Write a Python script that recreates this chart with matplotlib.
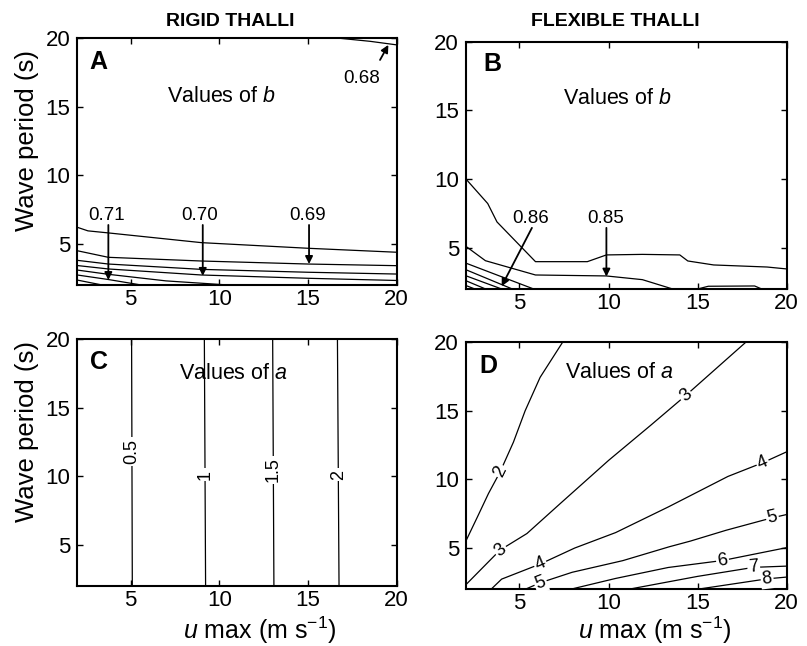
import matplotlib
matplotlib.use('Agg')
import matplotlib.pyplot as plt
import numpy as np

plt.rcParams['font.family'] = ['Liberation Sans', 'DejaVu Sans']
plt.rcParams['mathtext.fontset'] = 'custom'
plt.rcParams['mathtext.rm'] = 'Liberation Sans'
plt.rcParams['mathtext.it'] = 'Liberation Sans:italic'
plt.rcParams['mathtext.default'] = 'regular'

# ---------------- data ----------------
x_ticks = [5, 10, 15, 20]
y_ticks = [5, 10, 15, 20]

# Panel A - rigid thalli, contour lines of b
A_b0_x = [16.8, 18.5, 20.0]; A_b0_y = [20.0, 19.78, 19.52]
A_b1_x = [2.0, 2.6, 3.75, 9.0, 15.0, 20.0]; A_b1_y = [6.21, 5.95, 5.80, 5.09, 4.68, 4.39]
A_b2_x = [2.0, 3.75, 9.0, 15.0, 20.0]; A_b2_y = [4.50, 4.02, 3.75, 3.53, 3.41]
A_b3_x = [2.0, 3.75, 9.0, 15.0, 20.0]; A_b3_y = [3.80, 3.53, 3.14, 2.93, 2.80]
A_b4_x = [2.0, 3.75, 9.0, 15.0, 20.0]; A_b4_y = [3.42, 3.17, 2.73, 2.49, 2.33]
A_b5_x = [2.0, 3.75, 7.0, 10.5]; A_b5_y = [3.09, 2.78, 2.30, 2.0]
A_b6_x = [2.0, 3.75, 5.6]; A_b6_y = [2.73, 2.40, 2.0]
A_b7_x = [2.0, 3.4]; A_b7_y = [2.36, 2.0]
A_lines = [(A_b0_x, A_b0_y), (A_b1_x, A_b1_y), (A_b2_x, A_b2_y), (A_b3_x, A_b3_y),
           (A_b4_x, A_b4_y), (A_b5_x, A_b5_y), (A_b6_x, A_b6_y), (A_b7_x, A_b7_y)]
A_labels = ['0.71', '0.70', '0.69', '0.68']
A_label_xy = [(3.66, 7.1), (8.9, 7.1), (14.97, 7.1), (18.0, 17.1)]
A_tip_xy = [(3.75, 2.36), (9.07, 2.66), (15.06, 3.53), (19.53, 19.52)]

# Panel B - flexible thalli, contour lines of b
B_b1_x = [2.0, 3.22, 3.74, 5.9, 8.81, 9.88, 11.9, 14.0, 14.45, 15.9, 18.9, 20.0]
B_b1_y = [10.0, 8.22, 6.88, 3.99, 3.99, 4.48, 4.52, 4.48, 4.04, 3.75, 3.60, 3.46]
B_b2_x = [2.0, 3.09, 5.9, 9.88, 11.9, 13.6]; B_b2_y = [5.1, 4.06, 3.02, 2.95, 2.68, 2.0]
B_b2b_x = [15.0, 15.6, 18.2, 18.6]; B_b2b_y = [2.0, 2.2, 2.22, 2.0]
B_b3_x = [2.0, 5.8]; B_b3_y = [3.88, 2.0]
B_b4_x = [2.0, 4.6]; B_b4_y = [3.40, 2.0]
B_b5_x = [2.0, 4.0]; B_b5_y = [2.96, 2.0]
B_b6_x = [2.0, 3.1]; B_b6_y = [2.60, 2.0]
B_b7_x = [2.0, 2.5]; B_b7_y = [2.25, 2.0]
B_lines = [(B_b1_x, B_b1_y), (B_b2_x, B_b2_y), (B_b2b_x, B_b2b_y), (B_b3_x, B_b3_y),
           (B_b4_x, B_b4_y), (B_b5_x, B_b5_y), (B_b6_x, B_b6_y), (B_b7_x, B_b7_y)]
B_labels = ['0.86', '0.85']
B_label_xy = [(5.62, 7.1), (9.84, 7.1)]
B_tip_xy = [(4.0, 2.2), (9.88, 2.9)]

# Panel C - rigid thalli, contour lines of a
C_levels = ['0.5', '1', '1.5', '2']
C_x_bottom = [5.10, 9.23, 13.08, 16.75]
C_x_top = [5.06, 9.16, 13.01, 16.66]
C_label_y = [11.8, 10.1, 10.45, 10.1]

# Panel D - flexible thalli, contour lines of a
D_2_x = [2.0, 2.64, 3.26, 3.91, 4.66, 5.32, 6.16, 7.42]
D_2_y = [5.5, 7.24, 8.95, 10.52, 12.7, 15.0, 17.44, 20.0]
D_3_x = [2.0, 3.91, 5.42, 7.29, 10.0, 12.35, 14.32, 17.7]
D_3_y = [2.3, 4.82, 6.03, 8.22, 11.37, 13.92, 16.1, 20.0]
D_4_x = [3.44, 4.0, 6.16, 8.1, 10.4, 13.35, 16.7, 18.65, 20.0]
D_4_y = [2.0, 2.7, 3.8, 4.97, 6.1, 7.97, 10.2, 11.2, 12.0]
D_5_x = [5.4, 6.18, 7.96, 10.8, 13.4, 14.6, 16.6, 19.1, 20.0]
D_5_y = [2.0, 2.44, 3.2, 4.05, 5.06, 5.48, 6.27, 7.15, 7.42]
D_6_x = [8.0, 10.4, 13.35, 16.4, 20.0]; D_6_y = [2.0, 2.75, 3.55, 4.06, 5.0]
D_7_x = [11.3, 15.0, 18.15, 20.0]; D_7_y = [2.0, 2.9, 3.56, 3.65]
D_8_x = [15.2, 18.9, 20.0]; D_8_y = [2.0, 2.72, 2.85]
D_lines = [(D_2_x, D_2_y), (D_3_x, D_3_y), (D_4_x, D_4_y), (D_5_x, D_5_y),
           (D_6_x, D_6_y), (D_7_x, D_7_y), (D_8_x, D_8_y)]
D_label_text = ['2', '3', '3', '4', '4', '5', '5', '6', '7', '8']
D_label_line = [0, 1, 1, 2, 2, 3, 3, 4, 5, 6]
D_label_x = [3.93, 3.93, 14.33, 6.17, 18.65, 6.18, 19.2, 16.4, 18.15, 18.9]

# ---------------- figure ----------------
W, H = 807, 646
fig = plt.figure(figsize=(W / 100, H / 100), dpi=100)


def ax_px(l, t, r, b):
    return fig.add_axes([l / W, 1 - b / H, (r - l) / W, (b - t) / H])


LW = 0.9
TICK_FS = 16


def style(ax):
    ax.set_xlim(2, 20)
    ax.set_ylim(2, 20)
    ax.set_xticks(x_ticks)
    ax.set_yticks(y_ticks)
    ax.tick_params(direction='in', top=True, right=True, length=4, width=1,
                   labelsize=TICK_FS, pad=3)
    ax.tick_params(axis='y', pad=5)
    for s in ax.spines.values():
        s.set_linewidth(1.5)


axA = ax_px(77.3, 38.3, 396.7, 285.0)
axB = ax_px(466.0, 41.7, 786.7, 289.0)
axC = ax_px(77.3, 339.0, 396.7, 585.7)
axD = ax_px(466.0, 342.3, 786.7, 588.7)
for ax in (axA, axB, axC, axD):
    style(ax)

arrow_kw = dict(arrowstyle='-|>', color='black', lw=1.3, mutation_scale=11,
                shrinkA=0, shrinkB=0)
ANN_FS = 13.5
VAL_FS = 15.5
LET_FS = 18

# Panel A
for xs, ys in A_lines:
    axA.plot(xs, ys, color='black', lw=LW)
for lab, (lx, ly), (tx, ty) in zip(A_labels, A_label_xy, A_tip_xy):
    axA.text(lx, ly, lab, ha='center', va='center', fontsize=ANN_FS)
    if lab == '0.68':
        axA.annotate('', xy=(tx, ty), xytext=(19.06, 18.42), arrowprops=arrow_kw)
    else:
        axA.annotate('', xy=(tx, ty), xytext=(tx, 6.38), arrowprops=arrow_kw)
axA.text(10.14, 15.75, 'Values of $\\it{b}$', ha='center', va='center', fontsize=VAL_FS)
axA.text(2.7, 18.3, 'A', ha='left', va='center', fontsize=LET_FS, fontweight='bold')

# Panel B
for xs, ys in B_lines:
    axB.plot(xs, ys, color='black', lw=LW)
for lab, (lx, ly), (tx, ty) in zip(B_labels, B_label_xy, B_tip_xy):
    axB.text(lx, ly, lab, ha='center', va='center', fontsize=ANN_FS)
    sx = 5.7 if lab == '0.86' else tx
    axB.annotate('', xy=(tx, ty), xytext=(sx, 6.45), arrowprops=arrow_kw)
axB.text(10.5, 15.9, 'Values of $\\it{b}$', ha='center', va='center', fontsize=VAL_FS)
axB.text(3.0, 18.4, 'B', ha='left', va='center', fontsize=LET_FS, fontweight='bold')

# Panel C
for lev, xb, xt, ly in zip(C_levels, C_x_bottom, C_x_top, C_label_y):
    axC.plot([xb, xt], [2, 20], color='black', lw=LW)
    lx = xb + (xt - xb) * (ly - 2) / 18
    axC.text(lx, ly, lev, rotation=90, ha='center', va='center', fontsize=13,
             bbox=dict(boxstyle='square,pad=0.1', fc='white', ec='none'), zorder=3)
axC.text(10.8, 17.5, 'Values of $\\it{a}$', ha='center', va='center', fontsize=VAL_FS)
axC.text(2.7, 18.35, 'C', ha='left', va='center', fontsize=LET_FS, fontweight='bold')

# Panel D
for xs, ys in D_lines:
    axD.plot(xs, ys, color='black', lw=LW)
for txt, li, lx in zip(D_label_text, D_label_line, D_label_x):
    xs, ys = D_lines[li]
    ly = float(np.interp(lx, xs, ys))
    p0 = axD.transData.transform((lx - 0.3, np.interp(lx - 0.3, xs, ys)))
    p1 = axD.transData.transform((lx + 0.3, np.interp(lx + 0.3, xs, ys)))
    ang = np.degrees(np.arctan2(p1[1] - p0[1], p1[0] - p0[0]))
    axD.text(lx, ly, txt, rotation=ang, rotation_mode='anchor', ha='center', va='center',
             fontsize=13, bbox=dict(boxstyle='square,pad=0.08', fc='white', ec='none'),
             zorder=3)
axD.text(10.6, 17.8, 'Values of $\\it{a}$', ha='center', va='center', fontsize=VAL_FS)
axD.text(2.75, 18.3, 'D', ha='left', va='center', fontsize=LET_FS, fontweight='bold')

# Titles and axis labels
fig.text(230 / W, 1 - 21 / H, 'RIGID THALLI', ha='center', va='center',
         fontsize=14, fontweight='bold')
fig.text(615 / W, 1 - 21 / H, 'FLEXIBLE THALLI', ha='center', va='center',
         fontsize=14, fontweight='bold')
fig.text(27 / W, 1 - 140 / H, 'Wave period (s)', rotation=90, ha='center', va='center',
         fontsize=18.5)
fig.text(27 / W, 1 - 431 / H, 'Wave period (s)', rotation=90, ha='center', va='center',
         fontsize=18.5)
XLAB = '$\\it{u}$ max (m s$^{\\mathregular{-1}}$)'
fig.text(260 / W, 1 - 639 / H, XLAB, ha='center', va='baseline', fontsize=18)
fig.text(655 / W, 1 - 639 / H, XLAB, ha='center', va='baseline', fontsize=18)

fig.savefig('out.png', dpi=100)
